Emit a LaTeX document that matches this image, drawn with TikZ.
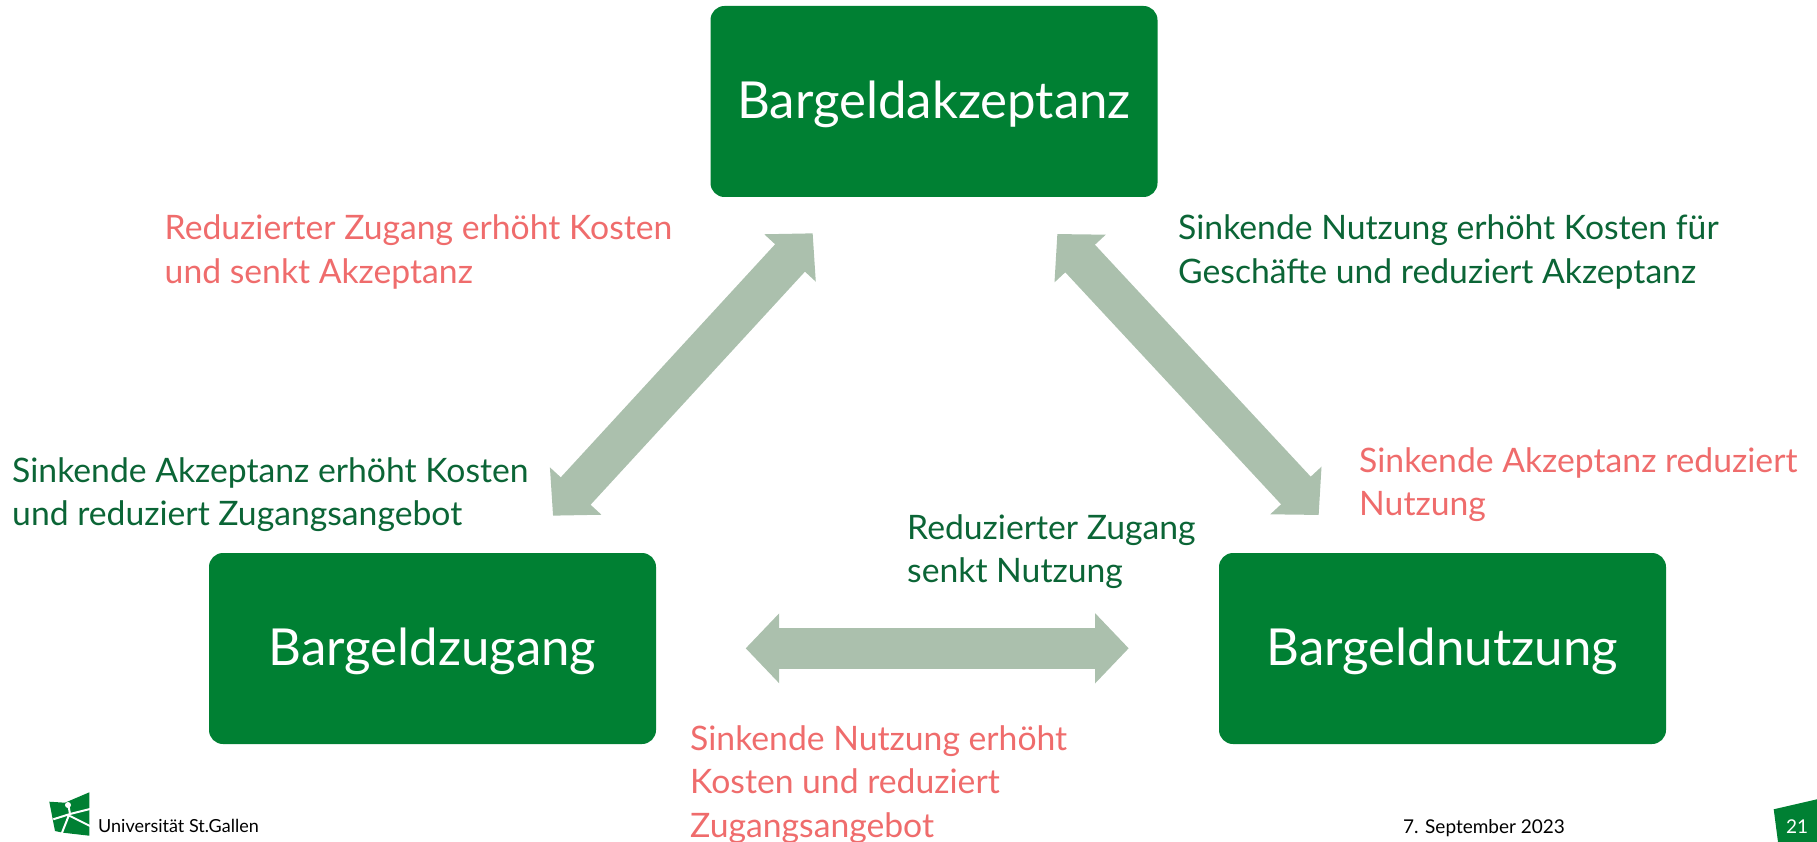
\documentclass[tikz,border=0pt]{standalone}
\usepackage{fontspec}
\usepackage{tikz}
\usetikzlibrary{arrows.meta}
\setmainfont{Lato}
\definecolor{hsgGreen}{HTML}{008033}
\definecolor{hsgDark}{HTML}{0B6536}
\definecolor{hsgRed}{HTML}{EF6C6C}
\definecolor{hsgPale}{HTML}{ABC0AD}
\tikzset{
  box/.style={fill=hsgGreen, text=white, rounded corners=14pt, minimum width=447pt,
    minimum height=191pt, inner sep=0pt, text height=44pt, text depth=10pt,
    font=\fontsize{51}{60}\selectfont},
  link/.style={hsgPale, line width=40.5pt, {Triangle[length=33.5pt,width=68pt]}-{Triangle[length=33.5pt,width=68pt]}},
  note/.style={anchor=base west, inner sep=0pt, align=left, font=\fontsize{33.7}{43.5}\selectfont},
  small/.style={anchor=base west, inner sep=0pt, font=\fontsize{19}{23}\selectfont}
}
\begin{document}
\begin{tikzpicture}[x=1pt, y=-1pt]
    \useasboundingbox (0,0) rectangle (1817,842);
    % boxes
    \node [box] (akzeptanz) at (934,101.5) {Bargeldakzeptanz};
    \node [box] (zugang) at (432.5,648.5) {Bargeldzugang};
    \node [box] (nutzung) at (1442.5,648.5) {Bargeldnutzung};
    % arrow ends
    \coordinate (a1) at (553,515.7);
    \coordinate (a2) at (812.7,233.3);
    \coordinate (b1) at (1057.3,234);
    \coordinate (b2) at (1318.7,515);
    \coordinate (c1) at (745.7,648.3);
    \coordinate (c2) at (1128.7,648.3);
    \draw [link] (a1) -- (a2);
    \draw [link] (b1) -- (b2);
    \draw [link] (c1) -- (c2);
    % notes
    \node [note, hsgRed] (n1) at (164.5,283.5) {Reduzierter Zugang erhöht Kosten\\und senkt Akzeptanz};
    \node [note, hsgDark] (n2) at (1178,283.5) {Sinkende Nutzung erhöht Kosten für\\Geschäfte und reduziert Akzeptanz};
    \node [note, hsgDark] (n3) at (12,525.5) {Sinkende Akzeptanz erhöht Kosten\\und reduziert Zugangsangebot};
    \node [note, hsgRed] (n4) at (1359,515.5) {Sinkende Akzeptanz reduziert\\Nutzung};
    \node [note, hsgDark] (n5) at (907,582.5) {Reduzierter Zugang\\senkt Nutzung};
    \node [note, hsgRed] (n6) at (690,837) {Sinkende Nutzung erhöht\\Kosten und reduziert\\Zugangsangebot};
    % footer
    \fill [hsgGreen] (49.3,801.7) -- (65,802.7) -- (89.3,792.3) -- (89.3,835.7) -- (63,832.7) -- (55,831) -- cycle;
    \fill [white] (68,805) circle [radius=3pt];
    \draw [white, line width=2pt] (68,803) -- (70,814) (53.3,819.3) -- (70,814)
          (70,814) -- (90,809) (69,815) -- (60.7,836) (70,816) -- (90,826);
    \node [small, black, font=\fontsize{18}{23}\selectfont] (uni) at (98,832) {Universität St.Gallen};
    \node [small, black] (datum) at (1403,833) {7. September 2023};
    \fill [hsgGreen] (1773.7,809.3) -- (1817,799.3) -- (1817,842) -- (1778,842) -- cycle;
    \node [small, white] (seite) at (1786,833) {21};
  \end{tikzpicture}
\end{document}
